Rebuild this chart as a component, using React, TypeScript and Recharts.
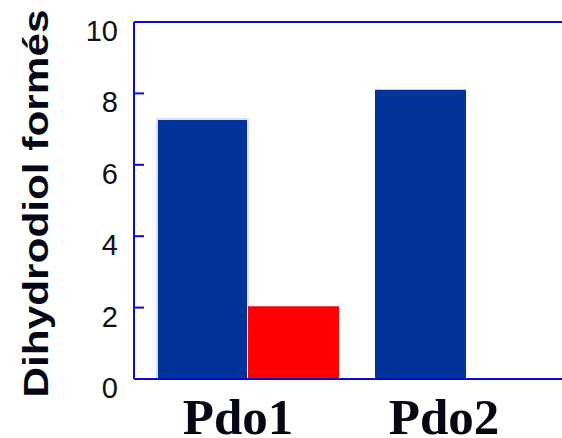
import React from "react";
import {
  BarChart,
  Bar,
  XAxis,
  YAxis,
  Cell,
  ReferenceLine,
} from "recharts";

const categories = ["Pdo1", "Pdo2"];
const blueValues = [7.28, 8.1];
const redValues = [2.04, 0];
const yTicks = [0, 2, 4, 6, 8, 10];

const data = categories.map((name, i) => ({
  name,
  blue: blueValues[i],
  red: redValues[i],
}));

const AXIS_BLUE = "#0a0ad2";
const labelShift = [-10, -22];

// label left of the axis, small tick mark pointing into the plot
const YTick = (props: any) => {
  const { x, y, payload } = props;
  return (
    <g>
      <rect x={x + 16} y={y - 1} width={10} height={2} fill={AXIS_BLUE} />
      <text
        x={x}
        y={y + 9}
        textAnchor="end"
        dominantBaseline="central"
        fontFamily="Liberation Sans, Arial, sans-serif"
        fontSize={29}
        fill="#111"
      >
        {payload.value}
      </text>
    </g>
  );
};

const XTick = (props: any) => {
  const { x, y, payload, index } = props;
  return (
    <text
      x={x + (labelShift[index] ?? 0)}
      y={y + 47}
      textAnchor="middle"
      fontFamily="Liberation Serif, Times New Roman, serif"
      fontWeight="bold"
      fontSize={51}
      fill="#050814"
    >
      {payload.value}
    </text>
  );
};

const YLabel = (props: any) => {
  const { viewBox } = props;
  const cx = 35;
  const cy = viewBox.y + viewBox.height / 2 + 3;
  return (
    <text
      x={cx}
      y={cy}
      transform={`rotate(-90, ${cx}, ${cy})`}
      textAnchor="middle"
      dominantBaseline="central"
      fontFamily="Liberation Sans, Arial, sans-serif"
      fontWeight="bold"
      fontSize={35}
      textLength={388}
      lengthAdjust="spacingAndGlyphs"
      fill="#050814"
    >
      Dihydrodiol formés
    </text>
  );
};

export default function App() {
  return (
    <div
      style={{
        position: "absolute",
        left: 0,
        top: 0,
        width: 562,
        height: 438,
        overflow: "hidden",
        background: "#fff",
      }}
    >
      <BarChart
        width={575}
        height={438}
        data={data}
        margin={{ top: 22, right: 0, bottom: 0, left: 0 }}
        barCategoryGap={18}
        barGap={0}
      >
        <XAxis
          dataKey="name"
          stroke={AXIS_BLUE}
          strokeWidth={2}
          tickLine={false}
          tick={<XTick />}
          padding={{ left: 5, right: 0 }}
          height={59}
        />
        <YAxis
          domain={[0, 10]}
          ticks={yTicks}
          width={134}
          stroke={AXIS_BLUE}
          strokeWidth={2}
          tickLine={false}
          tickSize={0}
          tickMargin={16}
          tick={<YTick />}
          label={<YLabel />}
        />
        <ReferenceLine y={10} stroke={AXIS_BLUE} strokeWidth={2} />
        <Bar dataKey="blue" fill="#00349b" isAnimationActive={false}>
          {data.map((d, i) => (
            <Cell
              key={d.name}
              stroke={i === 0 ? "#dde0f6" : "none"}
              strokeWidth={i === 0 ? 2 : 0}
            />
          ))}
        </Bar>
        <Bar dataKey="red" fill="#ff0000" isAnimationActive={false} />
      </BarChart>
    </div>
  );
}
